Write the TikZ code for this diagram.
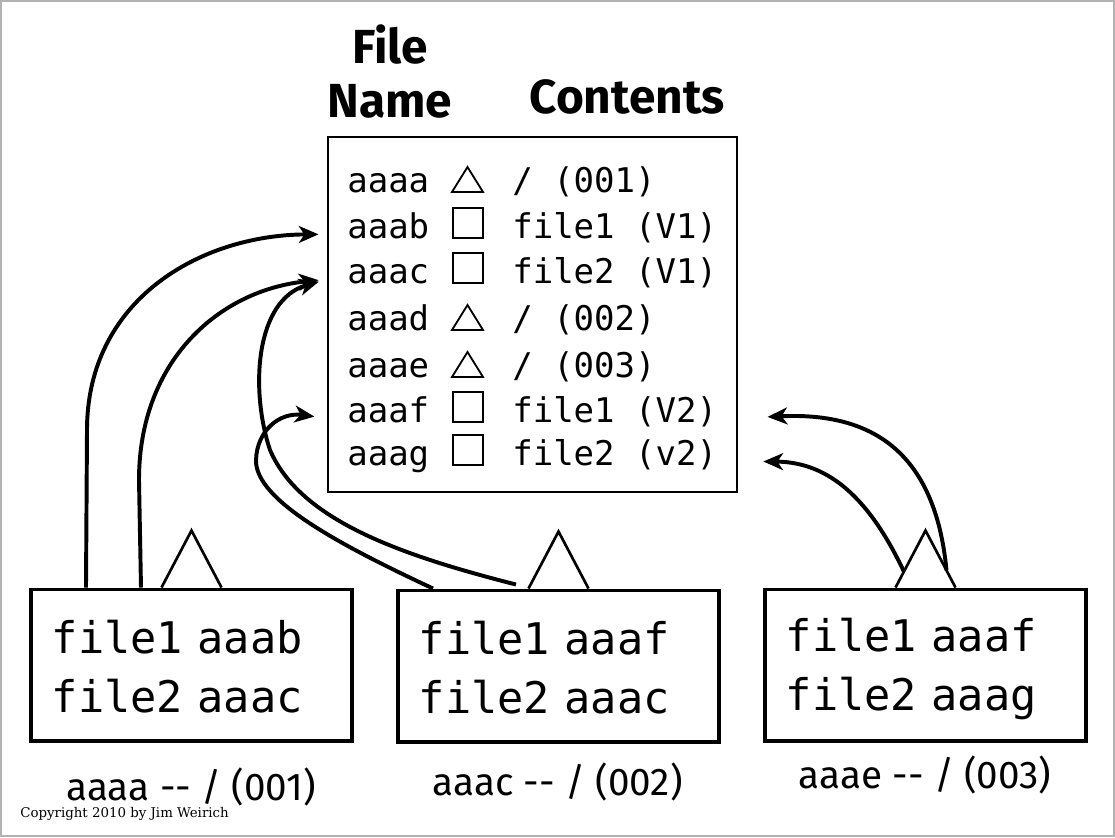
\documentclass[tikz,border=0pt]{standalone}
\usepackage{fontspec}
\setmainfont{Fira Sans}
\setmonofont{DejaVu Sans Mono}
\newfontfamily\credfont{DejaVu Serif}
\usepackage{tikz}
\usetikzlibrary{calc, arrows.meta}

\newcommand\boxstrut{\rule[-5pt]{0pt}{35pt}}

\begin{document}
\begin{tikzpicture}[
    x=0.025cm, y=-0.025cm,
    hdr/.style={font=\fontsize{34}{39}\selectfont\bfseries, align=center, inner sep=0pt},
    cell/.style={font=\fontsize{24.2}{29}\selectfont\ttfamily, anchor=base west, inner sep=0pt},
    sym/.style={line width=1.3pt},
    dirbox/.style={draw, line width=1.4pt, minimum width=10.225cm, minimum height=8.875cm},
    filebox/.style={
        draw,
        line width=2.8pt,
        text width=6.975cm,
        inner xsep=0.525cm,
        align=left,
        minimum height=3.775cm,
        font=\fontsize{31}{42}\selectfont\ttfamily
    },
    roof/.style={line width=1.9pt},
    link/.style={-{Stealth[length=14pt, width=12pt, inset=4pt]}, line width=2.8pt},
    tag/.style={font=\fontsize{27.5}{33}\selectfont, anchor=base, inner sep=0pt}
]
\useasboundingbox (0,0) rectangle (1115,837);
\draw[gray!60, line width=0.8pt] (1,1) rectangle (1114,836);

% column heads
\node[hdr, anchor=south] (hname) at (390,119) {File\\Name};
\node[hdr, anchor=base] (hcont) at (627,113) {Contents};

% the table of objects
\node[dirbox] (dir) at (532.5,314.5) {};

\node[cell] (n1) at (347,192) {aaaa}; \node[cell] (c1) at (512,192) {/ (001)};
\node[cell] (n2) at (347,238) {aaab}; \node[cell] (c2) at (512,238) {file1 (V1)};
\node[cell] (n3) at (347,283) {aaac}; \node[cell] (c3) at (512,283) {file2 (V1)};
\node[cell] (n4) at (347,330) {aaad}; \node[cell] (c4) at (512,330) {/ (002)};
\node[cell] (n5) at (347,377) {aaae}; \node[cell] (c5) at (512,377) {/ (003)};
\node[cell] (n6) at (347,422) {aaaf}; \node[cell] (c6) at (512,422) {file1 (V2)};
\node[cell] (n7) at (347,465) {aaag}; \node[cell] (c7) at (512,465) {file2 (v2)};

\foreach \yy in {192,330,377}
    \draw[sym] (452,\yy) -- ++(15.5,-25) -- ++(15.5,25) -- cycle;
\foreach \yy in {238,283,422,465}
    \draw[sym] (453,\yy) rectangle ++(30,-30);

% the three trees
\node[filebox] (b1) at (191.5,665) {\boxstrut file1 aaab\\\boxstrut file2 aaac};
\node[filebox] (b2) at (558.5,666) {\boxstrut file1 aaaf\\\boxstrut file2 aaac};
\node[filebox] (b3) at (925.5,665) {\boxstrut file1 aaaf\\\boxstrut file2 aaag};

\draw[roof] ($(b1.north)+(-30,0)$) coordinate (r1l) -- ++(30,-57) coordinate (r1a) -- ++(30,57) coordinate (r1r);
\draw[roof] ($(b2.north)+(-30,0)$) coordinate (r2l) -- ++(30,-57) coordinate (r2a) -- ++(30,57) coordinate (r2r);
\draw[roof] ($(b3.north)+(-30,0)$) coordinate (r3l) -- ++(30,-57) coordinate (r3a) -- ++(30,57) coordinate (r3r);

\node[tag] (l1) at (191,800) {aaaa -{}- / (001)};
\node[tag] (l2) at (557.5,795) {aaac -{}- / (002)};
\node[tag] (l3) at (925,788) {aaae -{}- / (003)};

\node[anchor=base west, inner sep=0pt, font=\credfont\fontsize{9.5}{11}\selectfont] (copy) at (20,817) {Copyright 2010 by Jim Weirich};

% pointers
\draw[link, shorten >=6pt] ($(b1.north west)+(57,0)$) -- (87,430)
    .. controls (87,300) and (200,235) .. (dir.west |- n2.mid);
\draw[link, shorten >=6pt] ($(b1.north west)+(112,0)$) -- (139,480)
    .. controls (139,360) and (220,290) .. (dir.west |- n3.mid);
\draw[link, shorten >=6pt] ($(b2.north west)+(120,-4)$)
    .. controls (400,555) and (300,520) .. (270,450)
    .. controls (250,390) and (255,300) .. (dir.west |- n3.mid);
\draw[link, shorten >=9pt] ($(b2.north west)+(37,0)$)
    .. controls (340,545) and (255,500) .. (256,460)
    .. controls (257,430) and (280,412) .. (dir.west |- n6.mid);
\draw[link, shorten >=21pt] ($(r3a)!0.7!(r3r)$)
    .. controls (935,450) and (870,412) .. (dir.east |- c6.mid);
\draw[link, shorten >=18pt] ($(r3a)!0.72!(r3l)$)
    .. controls (870,500) and (830,462) .. (dir.east |- c7.mid);

\end{tikzpicture}
\end{document}
